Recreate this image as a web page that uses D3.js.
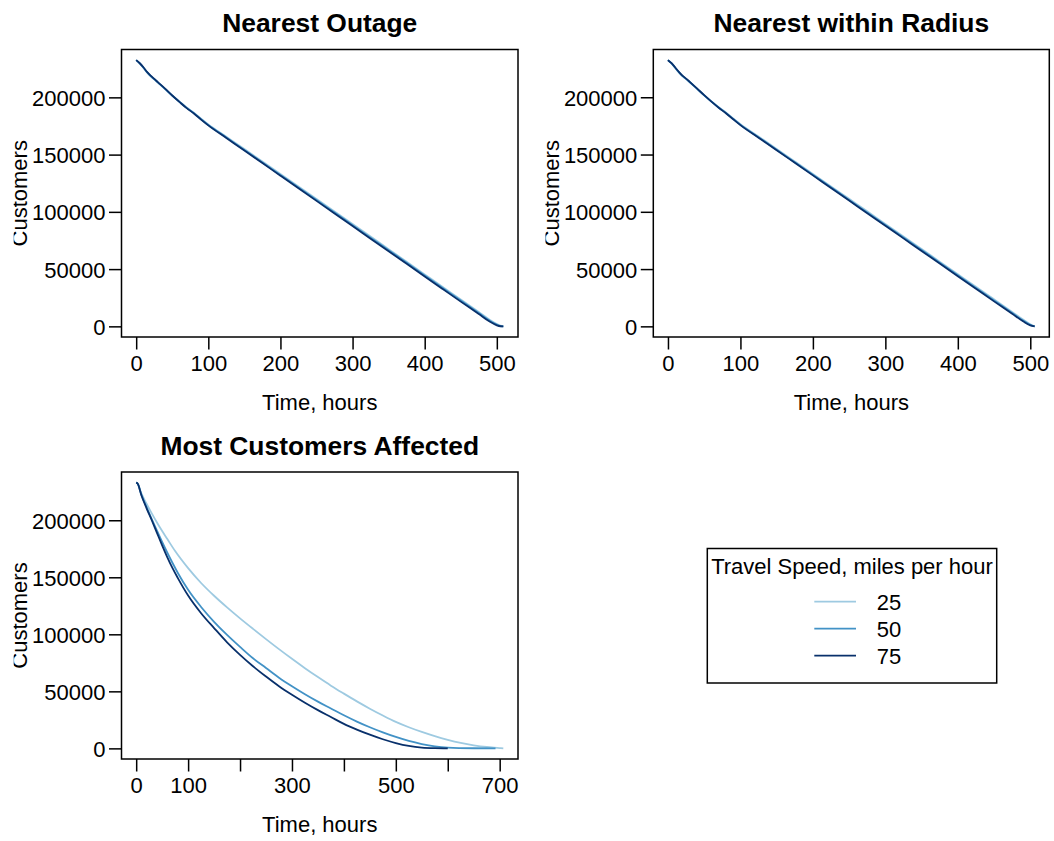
<!DOCTYPE html>
<html>
<head>
<meta charset="utf-8">
<script src="https://cdn.jsdelivr.net/npm/d3@7"></script>
<style>
body{margin:0;background:#fff}
svg{display:block;font-family:"Liberation Sans",Arial,Helvetica,sans-serif}
</style>
</head>
<body>
<svg id="chart" width="1054" height="841"></svg>
<script>
// speeds & colours
const speeds = ["25", "50", "75"]
const speedColors = ["#9ecae1", "#4292c6", "#08306b"]

// Nearest Outage
const noHours = [0,5,10,15,20,25,30,40,50,60,70,80,90,100,125,150,175,200,225,250,275,300,325,350,375,400,425,450,475,490,500,505,509]
const no25 = [232500,229400,225800,221800,218400,215700,212900,207300,201600,196300,191100,186600,181400,176400,165600,154800,143900,133000,122100,111200,100300,89300,78400,67400,56400,45400,34400,23500,12500,5800,2000,600,0]
const no50 = [232500,229600,226100,222100,218700,216000,213100,207400,201500,196100,190800,186200,180900,175900,165000,154100,143100,132200,121300,110300,99400,88400,77500,66500,55500,44500,33500,22500,11600,5000,1500,300,0]
const no75 = [232500,229800,226300,222300,219000,216200,213300,207600,201600,196000,190600,185900,180600,175500,164500,153600,142600,131600,120600,109600,98600,87600,76600,65600,54600,43600,32600,21600,10800,4200,900,100,0]

// Nearest within Radius
const nrHours = [0,5,10,15,20,25,30,40,50,60,70,80,90,100,125,150,175,200,225,250,275,300,325,350,375,400,425,450,475,490,500,506]
const nr25 = [232400,229300,225600,221700,218300,215800,213100,207400,201700,196400,191300,186700,181500,176500,165700,154900,144000,133100,122200,111300,100400,89400,78500,67500,56500,45500,34500,23600,12600,5900,1800,0]
const nr50 = [232400,229500,225800,221900,218600,216000,213300,207500,201700,196200,191000,186300,181100,176000,165100,154200,143200,132300,121400,110400,99500,88500,77600,66600,55600,44600,33600,22600,11700,5100,1300,0]
const nr75 = [232400,229700,226000,222200,218900,216300,213500,207700,201800,196200,190900,186000,180800,175700,164700,153800,142800,131800,120800,109800,98800,87800,76800,65800,54800,43800,32800,21800,11000,4400,900,0]

// Most Customers Affected
const mcaHours25 = [0,3,10,20,30,40,50,60,75,100,125,150,175,200,225,250,275,300,325,350,375,400,425,450,475,500,525,550,575,600,625,650,675,700,707]
const mca25 = [233000,231800,223500,214500,206000,198000,190500,183500,173000,158000,145000,133800,123600,114000,104800,95800,87000,78500,70300,62500,55000,48000,41200,34800,28800,23200,18500,14400,10700,7500,4800,2700,1200,300,0]
const mcaHours50 = [0,3,10,20,30,40,50,60,70,80,100,125,150,175,200,225,250,275,300,325,350,375,400,425,450,475,500,525,550,575,600,650,692]
const mca50 = [233000,232000,222500,211500,201000,191000,181000,171500,162500,154000,139000,124000,111000,99500,89000,79000,70500,62000,54500,47500,41000,35000,29000,23500,18500,14000,10000,6500,3800,1800,700,100,0]
const mcaHours75 = [0,3,10,20,30,40,50,60,70,80,100,125,150,175,200,225,250,275,300,325,350,375,400,425,450,475,500,525,550,575,600]
const mca75 = [233000,232000,222000,210500,200000,189000,178000,167500,158000,149500,134000,118500,105500,93000,82000,72000,63000,54500,47000,40000,33500,27500,21500,16500,12000,8000,4700,2200,700,150,0]

// ticks
const yTicks = [0, 50000, 100000, 150000, 200000]
const xTicksTop = [0, 100, 200, 300, 400, 500]
const xTicksBottom = [0, 100, 200, 300, 400, 500, 600, 700]
const xLabelsBottom = [0, 100, 300, 500, 700]

const svg = d3.select("#chart")
const fontSize = 22

function toSeries(hours, values){ return hours.map((h,i)=>({h:h, c:values[i]})) }

// R style 4% padding
function rDomain(ext){
    const d = ext[1]-ext[0]
    return [ext[0]-0.04*d, ext[1]+0.04*d]
}

function drawPanel(p){
    const all = p.series.flat()
    const x = d3.scaleLinear().domain(rDomain(d3.extent(all, d=>d.h))).range([p.left, p.right])
    const y = d3.scaleLinear().domain(rDomain(d3.extent(all, d=>d.c))).range([p.bottom, p.top])
    const g = svg.append("g")

    const line = d3.line().x(d=>x(d.h)).y(d=>y(d.c)).curve(d3.curveMonotoneX)
    g.selectAll(".series")
        .data(p.series)
        .join("path")
        .attr("d", line)
        .attr("fill", "none")
        .attr("stroke", (d,i)=>speedColors[i])
        .attr("stroke-width", 1.8)
        .attr("stroke-linejoin", "round")

    // box
    g.append("rect")
        .attr("x", p.left).attr("y", p.top)
        .attr("width", p.right-p.left).attr("height", p.bottom-p.top)
        .attr("fill", "none").attr("stroke", "#000").attr("stroke-width", 1.5)

    // X axis
    const xAxis = d3.axisBottom(x).tickValues(p.xTicks).tickSize(12.5).tickSizeOuter(0)
        .tickFormat(d=> p.xLabels.includes(d) ? d : "")
    const xa = g.append("g").attr("transform", `translate(0,${p.bottom})`).call(xAxis)
    xa.select(".domain").remove()
    xa.selectAll("line").attr("stroke", "#000").attr("stroke-width", 1.5)
    xa.selectAll("text").attr("y", 34).attr("dy", null)
        .attr("font-size", fontSize).attr("font-family", null).attr("fill", "#000")

    // Y axis
    const yAxis = d3.axisLeft(y).tickValues(yTicks).tickSize(12.5).tickSizeOuter(0).tickFormat(d3.format("d"))
    const ya = g.append("g").attr("transform", `translate(${p.left},0)`).call(yAxis)
    ya.select(".domain").remove()
    ya.selectAll("line").attr("stroke", "#000").attr("stroke-width", 1.5)
    ya.selectAll("text").attr("x", -16).attr("dy", "0.36em")
        .attr("font-size", fontSize).attr("font-family", null).attr("fill", "#000")

    // title
    g.append("text")
        .attr("x", (p.left+p.right)/2).attr("y", p.top-17.5)
        .attr("text-anchor", "middle")
        .attr("font-size", 26.4).attr("font-weight", "bold")
        .text(p.title)

    // x label
    g.append("text")
        .attr("x", (p.left+p.right)/2).attr("y", p.bottom+73)
        .attr("text-anchor", "middle")
        .attr("font-size", fontSize)
        .text("Time, hours")

    // y label, clipped on its left like the original
    const clipId = `clip_${p.id}`
    svg.append("clipPath").attr("id", clipId)
        .append("rect").attr("x", p.left-107.8).attr("y", p.top).attr("width", 200).attr("height", p.bottom-p.top)
    const lx = p.left-94.3
    g.append("g").attr("clip-path", `url(#${clipId})`)
        .append("text")
        .attr("transform", `translate(${lx},${(p.top+p.bottom)/2}) rotate(-90)`)
        .attr("text-anchor", "middle")
        .attr("font-size", fontSize)
        .text("Customers")
}

const panels = [
    {id:"no", title:"Nearest Outage", left:121.5, right:518, top:49.5, bottom:337,
     xTicks:xTicksTop, xLabels:xTicksTop,
     series:[toSeries(noHours,no25), toSeries(noHours,no50), toSeries(noHours,no75)]},
    {id:"nr", title:"Nearest within Radius", left:653.3, right:1049.3, top:49.5, bottom:337,
     xTicks:xTicksTop, xLabels:xTicksTop,
     series:[toSeries(nrHours,nr25), toSeries(nrHours,nr50), toSeries(nrHours,nr75)]},
    {id:"mca", title:"Most Customers Affected", left:121.5, right:518, top:472, bottom:759,
     xTicks:xTicksBottom, xLabels:xLabelsBottom,
     series:[toSeries(mcaHours25,mca25), toSeries(mcaHours50,mca50), toSeries(mcaHours75,mca75)]}
]
panels.forEach(drawPanel)

// legend
const legend = svg.append("g")
legend.append("rect")
    .attr("x", 707.3).attr("y", 548.5).attr("width", 289.4).attr("height", 134.5)
    .attr("fill", "none").attr("stroke", "#000").attr("stroke-width", 1.5)
legend.append("text")
    .attr("x", 852).attr("y", 574.3)
    .attr("text-anchor", "middle").attr("font-size", fontSize)
    .text("Travel Speed, miles per hour")
const items = legend.selectAll(".item")
    .data(speeds)
    .join("g")
    .attr("transform", (d,i)=>`translate(0,${601.7+i*27})`)
items.append("line")
    .attr("x1", 814.3).attr("x2", 856)
    .attr("stroke", (d,i)=>speedColors[i]).attr("stroke-width", 1.8)
items.append("text")
    .attr("x", 876.7).attr("dy", "0.36em")
    .attr("font-size", fontSize)
    .text(d=>d)
</script>
</body>
</html>
